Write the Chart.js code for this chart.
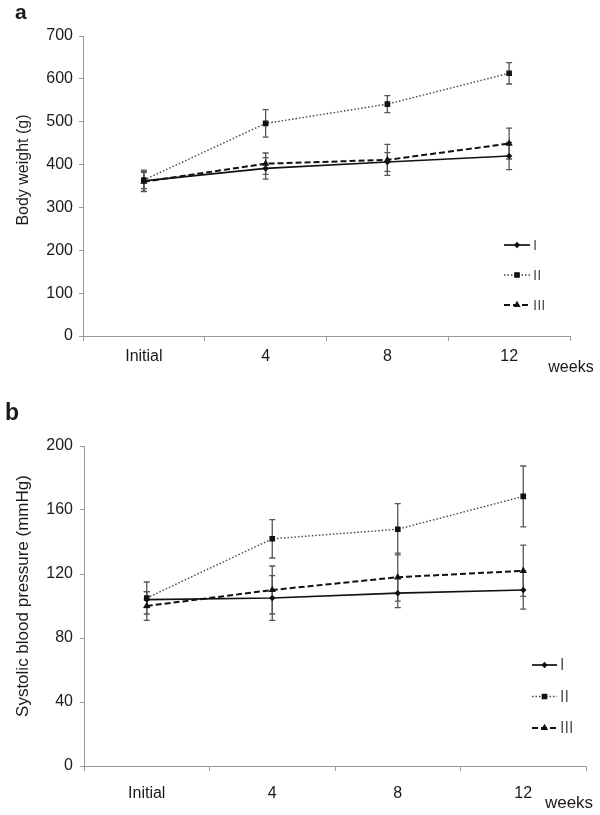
<!DOCTYPE html>
<html>
<head>
<meta charset="utf-8">
<script src="https://cdn.jsdelivr.net/npm/chart.js@4/dist/chart.umd.min.js"></script>
<style>
  html, body { margin: 0; padding: 0; background: #fff; }
  #wrap { position: relative; width: 600px; height: 815px; font-family: "Liberation Sans", Arial, sans-serif; color: #1a1a1a; }
  canvas { position: absolute; left: 0; }
  #chart-weight { top: 0; }
  #chart-pressure { top: 390px; }
  .panel { position: absolute; font-weight: bold; line-height: 1; }
  .ytitle { position: absolute; width: 300px; height: 20px; line-height: 20px; text-align: center; transform: rotate(-90deg); white-space: nowrap; }
  .weeks { position: absolute; width: 60px; line-height: 20px; text-align: center; }
</style>
</head>
<body>
<div id="wrap">
  <canvas id="chart-weight" width="600" height="390"></canvas>
  <canvas id="chart-pressure" width="600" height="425"></canvas>
  <div class="panel" style="left:15px; top:1px; font-size:21px;">a</div>
  <div class="panel" style="left:5px; top:401px; font-size:23px;">b</div>
  <div class="ytitle" style="left:-127px; top:160px; font-size:16px;">Body weight (g)</div>
  <div class="ytitle" style="left:-127px; top:586px; font-size:17px;">Systolic blood pressure (mmHg)</div>
  <div class="weeks" style="left:541px; top:357px; font-size:16px;">weeks</div>
  <div class="weeks" style="left:539px; top:793px; font-size:17px;">weeks</div>
</div>
<script>
(function () {
  'use strict';

  // categories
  var weeks = ['Initial', '4', '8', '12'];
  var groups = ['I', 'II', 'III'];

  // (a) body weight, g
  var weightI = [362, 391, 406, 420];
  var weightII = [364, 496, 541, 613];
  var weightIII = [360, 402, 411, 449];
  var weightErrI = [25, 25, 22, 32];
  var weightErrII = [20, 32, 20, 25];
  var weightErrIII = [22, 25, 36, 36];

  // (b) systolic blood pressure, mmHg
  var pressureI = [104, 105, 108, 110];
  var pressureII = [105, 142, 148, 168.5];
  var pressureIII = [100, 110, 118, 122];
  var pressureErrI = [5, 14, 9, 12];
  var pressureErrII = [10, 12, 16, 19];
  var pressureErrIII = [9, 15, 15, 16];

  var font = '"Liberation Sans", Arial, sans-serif';

  var errorBarPlugin = {
    id: 'errorBars',
    beforeDatasetsDraw: function (chart) {
      var ctx = chart.ctx;
      var yScale = chart.scales.y;
      chart.data.datasets.forEach(function (ds, i) {
        var meta = chart.getDatasetMeta(i);
        meta.data.forEach(function (pt, j) {
          var v = ds.data[j];
          var e = ds.errors[j];
          var yTop = yScale.getPixelForValue(v + e);
          var yBot = yScale.getPixelForValue(v - e);
          ctx.save();
          ctx.strokeStyle = '#555';
          ctx.lineWidth = 1.3;
          ctx.beginPath();
          ctx.moveTo(pt.x, yTop);
          ctx.lineTo(pt.x, yBot);
          ctx.moveTo(pt.x - 3, yTop);
          ctx.lineTo(pt.x + 3, yTop);
          ctx.moveTo(pt.x - 3, yBot);
          ctx.lineTo(pt.x + 3, yBot);
          ctx.stroke();
          ctx.restore();
        });
      });
    },
  };

  var sideLegendPlugin = {
    id: 'sideLegend',
    afterDatasetsDraw: function (chart, args, opts) {
      var ctx = chart.ctx;
      var area = chart.chartArea;
      chart.data.datasets.forEach(function (ds, i) {
        var x0 = area.right - opts.fromRight;
        var y = area.bottom - opts.fromBottom + i * opts.spacing;
        ctx.save();
        ctx.strokeStyle = ds.borderColor;
        ctx.lineWidth = ds.borderWidth;
        ctx.setLineDash(ds.borderDash || []);
        ctx.beginPath();
        ctx.moveTo(x0, y);
        ctx.lineTo(x0 + opts.lineLength, y);
        ctx.stroke();
        ctx.setLineDash([]);
        ctx.fillStyle = ds.pointBackgroundColor;
        ctx.strokeStyle = ds.pointBorderColor;
        Chart.helpers.drawPoint(ctx, {
          pointStyle: ds.pointStyle,
          radius: ds.pointRadius,
          rotation: 0,
          borderWidth: 1,
        }, x0 + opts.lineLength / 2, y);
        ctx.fillStyle = '#555';
        ctx.font = opts.fontSize + 'px ' + font;
        ctx.textBaseline = 'middle';
        ctx.textAlign = 'left';
        ctx.fillText(ds.label, x0 + opts.lineLength + 3, y + 1);
        ctx.restore();
      });
    },
  };

  function makeDatasets(vals, errs) {
    return [
      {
        label: groups[0], data: vals[0], errors: errs[0],
        borderColor: '#111', borderWidth: 1.7, borderDash: [],
        pointStyle: 'rectRot', pointRadius: 2,
        pointBackgroundColor: '#111', pointBorderColor: '#111',
      },
      {
        label: groups[1], data: vals[1], errors: errs[1],
        borderColor: '#444', borderWidth: 1.4, borderDash: [1.5, 2],
        pointStyle: 'rect', pointRadius: 3,
        pointBackgroundColor: '#111', pointBorderColor: '#111',
      },
      {
        label: groups[2], data: vals[2], errors: errs[2],
        borderColor: '#111', borderWidth: 2, borderDash: [6, 3],
        pointStyle: 'triangle', pointRadius: 2.2,
        pointBackgroundColor: '#111', pointBorderColor: '#111',
      },
    ];
  }

  function buildOptions(cfg) {
    return {
      responsive: false,
      animation: false,
      devicePixelRatio: 1,
      layout: { padding: { left: 0, right: cfg.padRight, top: cfg.padTop, bottom: 0 } },
      plugins: {
        legend: { display: false },
        tooltip: { enabled: false },
        sideLegend: cfg.legend,
      },
      scales: {
        x: {
          offset: true,
          afterFit: function (s) { s.height = cfg.xHeight; },
          grid: { offset: true, drawOnChartArea: false, tickLength: 5, color: '#999' },
          border: { color: '#999', width: 1 },
          ticks: { color: '#1a1a1a', padding: cfg.xPad, maxRotation: 0, font: { family: font, size: cfg.tickSize } },
        },
        y: {
          min: 0,
          max: cfg.yMax,
          afterFit: function (s) { s.width = cfg.yWidth; },
          grid: { drawOnChartArea: false, tickLength: 4, color: '#999' },
          border: { color: '#999', width: 1 },
          ticks: { stepSize: cfg.yStep, color: '#1a1a1a', padding: cfg.yPad, font: { family: font, size: cfg.tickSize } },
        },
      },
    };
  }

  new Chart(document.getElementById('chart-weight'), {
    type: 'line',
    data: {
      labels: weeks,
      datasets: makeDatasets([weightI, weightII, weightIII], [weightErrI, weightErrII, weightErrIII]),
    },
    options: buildOptions({
      padRight: 30, padTop: 36, xHeight: 54, yWidth: 83, yMax: 700, yStep: 100,
      xPad: 6, yPad: 6, tickSize: 16,
      legend: { fromRight: 66, fromBottom: 91, spacing: 30, lineLength: 26, fontSize: 15 },
    }),
    plugins: [errorBarPlugin, sideLegendPlugin],
  });

  new Chart(document.getElementById('chart-pressure'), {
    type: 'line',
    data: {
      labels: weeks,
      datasets: makeDatasets([pressureI, pressureII, pressureIII], [pressureErrI, pressureErrII, pressureErrIII]),
    },
    options: buildOptions({
      padRight: 14, padTop: 56, xHeight: 49, yWidth: 84, yMax: 200, yStep: 40,
      xPad: 13, yPad: 7, tickSize: 16,
      legend: { fromRight: 54, fromBottom: 101, spacing: 31.5, lineLength: 25, fontSize: 16 },
    }),
    plugins: [errorBarPlugin, sideLegendPlugin],
  });
})();
</script>
</body>
</html>
